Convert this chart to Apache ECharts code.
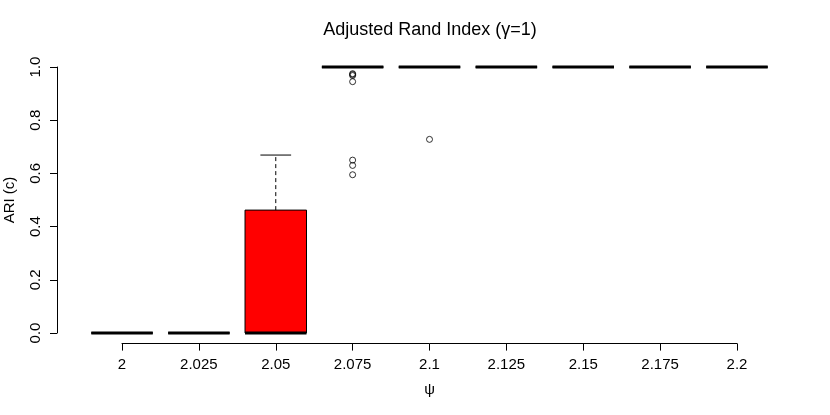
<!DOCTYPE html>
<html><head><meta charset="utf-8">
<script src="https://cdn.jsdelivr.net/npm/echarts@6/dist/echarts.min.js"></script>
<style>html,body{margin:0;padding:0;background:#fff}#c{width:830px;height:415px}</style>
</head><body><div id="c"></div>
<script>
const categories = ['2','2.025','2.05','2.075','2.1','2.125','2.15','2.175','2.2'];
const lowerWhisker = [0,0,0,1,1,1,1,1,1];
const q1 = [0,0,0,1,1,1,1,1,1];
const median = [0,0,0,1,1,1,1,1,1];
const q3 = [0,0,0.462,1,1,1,1,1,1];
const upperWhisker = [0,0,0.669,1,1,1,1,1,1];
const outlierCat = [3,3,3,3,3,3,3,4];
const outlierVal = [0.975,0.972,0.968,0.945,0.65,0.63,0.595,0.728];

const FONT = '"Liberation Sans", Arial, sans-serif';
const boxData = categories.map((c,i)=>[i, lowerWhisker[i], q1[i], median[i], q3[i], upperWhisker[i]]);
const outData = outlierCat.map((c,i)=>[c, outlierVal[i]]);

function renderBox(params, api){
  const x = api.value(0);
  const pLw = api.coord([x, api.value(1)]);
  const pQ1 = api.coord([x, api.value(2)]);
  const pMed = api.coord([x, api.value(3)]);
  const pQ3 = api.coord([x, api.value(4)]);
  const pUw = api.coord([x, api.value(5)]);
  const band = api.size([1,0])[0];
  const hw = band*0.4;
  const cx = pMed[0];
  const ch = [];
  ch.push({type:'rect', shape:{x:cx-hw, y:pQ3[1], width:2*hw, height:pQ1[1]-pQ3[1]},
    style:{fill:'#ff0000', stroke:'#000', lineWidth:1}});
  if (pUw[1] < pQ3[1]) ch.push({type:'line', shape:{x1:cx,y1:pQ3[1],x2:cx,y2:pUw[1]}, style:{stroke:'#000',lineWidth:1,lineDash:[4,3]}});
  if (pLw[1] > pQ1[1]) ch.push({type:'line', shape:{x1:cx,y1:pQ1[1],x2:cx,y2:pLw[1]}, style:{stroke:'#000',lineWidth:1,lineDash:[4,3]}});
  ch.push({type:'line', shape:{x1:cx-hw/2,y1:pUw[1],x2:cx+hw/2,y2:pUw[1]}, style:{stroke:'#000',lineWidth:1}});
  ch.push({type:'line', shape:{x1:cx-hw/2,y1:pLw[1],x2:cx+hw/2,y2:pLw[1]}, style:{stroke:'#000',lineWidth:1}});
  ch.push({type:'line', shape:{x1:cx-hw,y1:pMed[1],x2:cx+hw,y2:pMed[1]}, style:{stroke:'#000',lineWidth:3,lineCap:'butt'}});
  return {type:'group', children:ch};
}

const gridBase = {containLabel:false, outerBoundsMode:'none'};
const chart = echarts.init(document.getElementById('c'), null, {renderer:'canvas'});
chart.setOption({
  animation:false,
  backgroundColor:'#fff',
  textStyle:{fontFamily:FONT},
  title:{text:'Adjusted Rand Index (\u03b3=1)', left:425, top:16, textAlign:'center',
    textStyle:{fontFamily:FONT, fontSize:18, fontWeight:'normal', color:'#000'}},
  grid:[
    Object.assign({left:83.6, right:54.6, top:56.4, bottom:71.4}, gridBase),
    Object.assign({left:122, right:93, top:56.4, bottom:71.4}, gridBase),
    Object.assign({left:57, right:54.6, top:67, bottom:82}, gridBase)
  ],
  xAxis:[
    {gridIndex:0, type:'category', data:categories, boundaryGap:true, show:false},
    {gridIndex:1, type:'value', min:1, max:9, interval:1, splitLine:{show:false},
      axisLine:{show:true, onZero:false, lineStyle:{color:'#000',width:1}},
      axisTick:{show:true, inside:false, length:7, lineStyle:{color:'#000'}},
      axisLabel:{show:true, margin:14, color:'#000', fontSize:15, fontFamily:FONT,
        formatter:(v)=>categories[Math.round(v)-1]},
      name:'\u03c8', nameLocation:'middle', nameGap:39,
      nameTextStyle:{color:'#000', fontSize:15, fontFamily:FONT}},
    {gridIndex:2, type:'value', show:false, min:0, max:1}
  ],
  yAxis:[
    {gridIndex:0, type:'value', min:-0.04, max:1.04, show:false},
    {gridIndex:1, type:'value', min:-0.04, max:1.04, show:false},
    {gridIndex:2, type:'value', min:0, max:1, interval:0.2, splitLine:{show:false},
      axisLine:{show:true, onZero:false, lineStyle:{color:'#000',width:1}},
      axisTick:{show:true, inside:false, length:7, lineStyle:{color:'#000'}},
      axisLabel:{show:true, rotate:90, margin:14, color:'#000', fontSize:15, fontFamily:FONT,
        formatter:(v)=>v.toFixed(1)},
      name:'ARI (c)', nameLocation:'middle', nameGap:40, nameRotate:90,
      nameTextStyle:{color:'#000', fontSize:15, fontFamily:FONT}}
  ],
  series:[
    {type:'custom', xAxisIndex:0, yAxisIndex:0, renderItem:renderBox, data:boxData,
      encode:{x:0, y:[1,2,3,4,5]}, clip:false},
    {type:'scatter', xAxisIndex:0, yAxisIndex:0, data:outData, symbol:'circle', symbolSize:6,
      itemStyle:{color:'transparent', borderColor:'#000', borderWidth:1}}
  ]
});
</script></body></html>
